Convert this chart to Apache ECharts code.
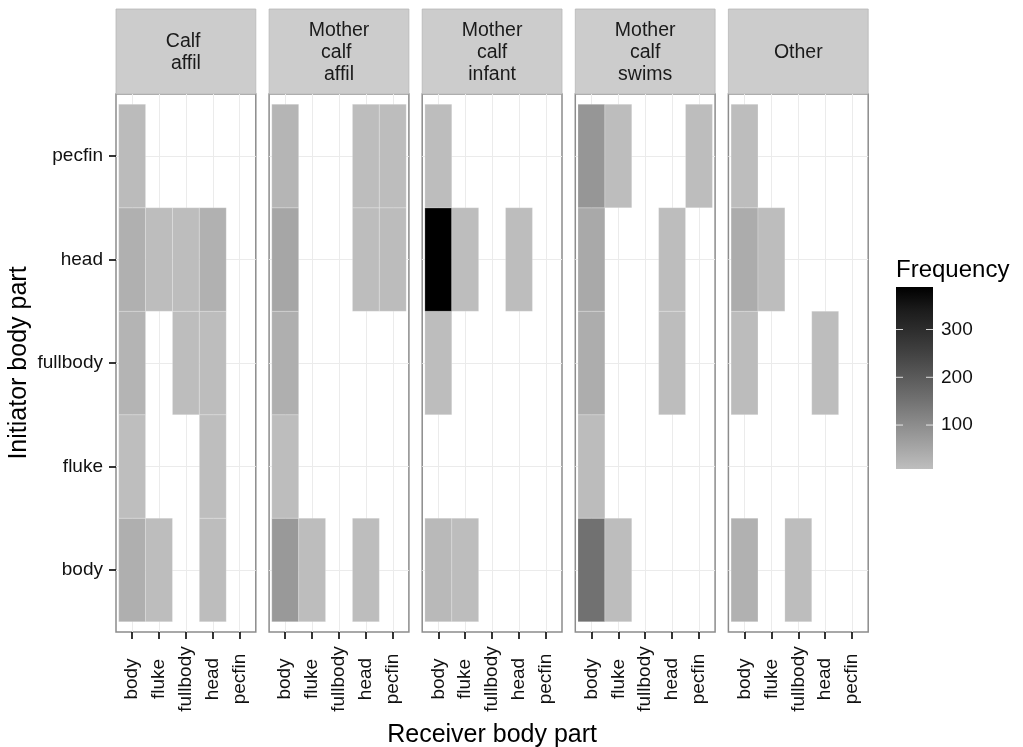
<!DOCTYPE html>
<html><head><meta charset="utf-8">
<script src="https://cdn.jsdelivr.net/npm/echarts@6/dist/echarts.min.js"></script>
<style>html,body{margin:0;padding:0;background:#fff}#c{width:1023px;height:747px}</style>
</head><body><div id="c"></div>
<script>
// Categories
const receiverParts = ['body', 'fluke', 'fullbody', 'head', 'pecfin'];
const initiatorParts = ['body', 'fluke', 'fullbody', 'head', 'pecfin'];
const panelNames = ['Calf \naffil', 'Mother\ncalf \naffil', 'Mother\ncalf\ninfant', 'Mother\ncalf\nswims', 'Other'];
// Frequencies: rows = initiator (body..pecfin), columns = receiver (body..pecfin), null = none
const calfAffil = [
  [36, 10, null, 10, null],
  [8, null, null, 8, null],
  [26, null, 10, 10, null],
  [34, 10, 10, 32, null],
  [14, null, null, null, null]
];
const motherCalfAffil = [
  [77, 10, null, 10, null],
  [10, null, null, null, null],
  [35, null, null, null, null],
  [52, null, null, 10, 11],
  [24, null, null, 10, 9]
];
const motherCalfInfant = [
  [18, 10, null, null, null],
  [null, null, null, null, null],
  [10, null, null, null, null],
  [389, 10, null, 10, null],
  [10, null, null, null, null]
];
const motherCalfSwims = [
  [153, 10, null, null, null],
  [12, null, null, null, null],
  [39, null, null, 10, null],
  [46, null, null, 10, null],
  [82, 10, null, null, 10]
];
const other = [
  [32, null, 10, null, null],
  [null, null, null, null, null],
  [11, null, null, 10, null],
  [41, 10, null, null, null],
  [10, null, null, null, null]
];
const legendTicks = [100, 200, 300];

const panels = [calfAffil, motherCalfAffil, motherCalfInfant, motherCalfSwims, other];
const FONT = '"Liberation Sans", Arial, sans-serif';
const catPos = receiverParts.map((_, i) => i + 1);

// gradient grey -> black interpolated in CIELAB lightness
function labGrey(t) {
  const L0 = 76.95;
  const L = L0 * (1 - t);
  const fy = (L + 16) / 116;
  const Y = fy > 6 / 29 ? fy * fy * fy : (fy - 4 / 29) * 3 * (6 / 29) * (6 / 29);
  const s = Y > 0.0031308 ? 1.055 * Math.pow(Y, 1 / 2.4) - 0.055 : 12.92 * Y;
  const v = Math.max(0, Math.min(255, Math.round(s * 255)));
  return 'rgb(' + v + ',' + v + ',' + v + ')';
}
const rampStops = [0, 0.125, 0.25, 0.375, 0.5, 0.625, 0.75, 0.875, 1];
const rampColors = rampStops.map(labGrey);

const seriesData = panels.map(m => {
  const out = [];
  m.forEach((row, yi) => row.forEach((v, xi) => {
    if (v !== null) out.push([xi + 1, yi + 1, v]);
  }));
  return out;
});
const allVals = seriesData.flat().map(d => d[2]);
const vMin = Math.min(...allVals);
const vMax = Math.max(...allVals);

const left0 = 116, step = 153.1, pw = 139.8, ptop = 94, ph = 538;
const grids = [], xAxes = [], yAxes = [], series = [], graphics = [];

function renderCell(params, api) {
  const x = api.value(0), y = api.value(1);
  const p0 = api.coord([x - 0.5, y + 0.5]);
  const p1 = api.coord([x + 0.5, y - 0.5]);
  return {
    type: 'rect',
    shape: { x: p0[0], y: p0[1], width: p1[0] - p0[0], height: p1[1] - p0[1] },
    style: { fill: api.visual('color'), stroke: 'rgba(255,255,255,0.35)', lineWidth: 0.6 }
  };
}

const tickStyle = { color: '#111', width: 1.7 };

panels.forEach((m, i) => {
  const L = left0 + i * step;
  graphics.push({
    type: 'rect', shape: { x: L, y: 9, width: pw, height: ptop - 9 },
    style: { fill: '#cccccc', stroke: '#b8b8b8', lineWidth: 0.8 }
  });
  graphics.push({
    type: 'text',
    style: { text: panelNames[i], x: L + pw / 2, y: 52.5, textAlign: 'center', textVerticalAlign: 'middle',
      font: '19.5px ' + FONT, lineHeight: 22, fill: '#1a1a1a' }
  });
  grids.push({ left: L, top: ptop, width: pw, height: ph, show: true, backgroundColor: '#fff',
    borderColor: '#8c8c8c', borderWidth: 1.5, outerBoundsMode: 'none', containLabel: false });
  xAxes.push({
    type: 'value', gridIndex: i, min: 0.4, max: 5.6,
    axisLine: { show: false },
    axisTick: { show: true, customValues: catPos, length: 7, lineStyle: tickStyle },
    axisLabel: { customValues: catPos, rotate: 90, align: 'center', verticalAlign: 'middle', margin: 47,
      fontSize: 19, color: '#111', fontFamily: FONT,
      formatter: v => receiverParts[Math.round(v) - 1] || '' },
    splitLine: { show: true, lineStyle: { color: '#ebebeb', width: 1 } },
    name: i === 2 ? 'Receiver body part' : '', nameLocation: 'middle', nameGap: 91,
    nameTextStyle: { fontSize: 25, color: '#000', fontFamily: FONT }
  });
  yAxes.push({
    type: 'value', gridIndex: i, min: 0.4, max: 5.6,
    axisLine: { show: false },
    axisTick: { show: i === 0, customValues: catPos, length: 7, lineStyle: tickStyle },
    axisLabel: { show: i === 0, customValues: catPos, margin: 13, fontSize: 19, color: '#111', fontFamily: FONT,
      formatter: v => initiatorParts[Math.round(v) - 1] || '' },
    splitLine: { show: true, lineStyle: { color: '#ebebeb', width: 1 } },
    name: i === 0 ? 'Initiator body part' : '', nameLocation: 'middle', nameGap: 84,
    nameTextStyle: { fontSize: 25, color: '#000', fontFamily: FONT }
  });
  series.push({
    type: 'custom', xAxisIndex: i, yAxisIndex: i, data: seriesData[i],
    encode: { x: 0, y: 1 }, renderItem: renderCell
  });
});

// colour bar
grids.push({ left: 896, top: 287, width: 37, height: 182, outerBoundsMode: 'none', containLabel: false });
xAxes.push({ type: 'value', gridIndex: 5, min: 0, max: 1, show: false });
yAxes.push({
  type: 'value', gridIndex: 5, min: vMin, max: vMax, position: 'right',
  axisLine: { show: false },
  axisTick: { show: false },
  axisLabel: { customValues: legendTicks, margin: 8, fontSize: 19, color: '#111', fontFamily: FONT },
  splitLine: { show: false }
});
series.push({
  type: 'custom', xAxisIndex: 5, yAxisIndex: 5, data: [[0, 1, vMin, vMax]],
  renderItem: function (params, api) {
    const p0 = api.coord([0, vMax]);
    const p1 = api.coord([1, vMin]);
    const stops = rampStops.map((s, k) => ({ offset: 1 - s, color: rampColors[k] }));
    stops.sort((a, b) => a.offset - b.offset);
    const children = [{
      type: 'rect',
      shape: { x: p0[0], y: p0[1], width: p1[0] - p0[0], height: p1[1] - p0[1] },
      style: { fill: { type: 'linear', x: 0, y: 0, x2: 0, y2: 1, colorStops: stops } }
    }];
    legendTicks.forEach(t => {
      const py = api.coord([0, t])[1];
      children.push({ type: 'line', shape: { x1: p0[0], y1: py, x2: p0[0] + 7, y2: py },
        style: { stroke: 'rgba(255,255,255,0.8)', lineWidth: 1 } });
      children.push({ type: 'line', shape: { x1: p1[0] - 7, y1: py, x2: p1[0], y2: py },
        style: { stroke: 'rgba(255,255,255,0.8)', lineWidth: 1 } });
    });
    return { type: 'group', children: children };
  }
});
graphics.push({
  type: 'text',
  style: { text: 'Frequency', x: 896, y: 270, textAlign: 'left', textVerticalAlign: 'middle',
    font: '24px ' + FONT, fill: '#000' }
});

const chart = echarts.init(document.getElementById('c'), null, { renderer: 'canvas' });
chart.setOption({
  backgroundColor: '#fff',
  animation: false,
  textStyle: { fontFamily: FONT },
  grid: grids,
  xAxis: xAxes,
  yAxis: yAxes,
  visualMap: {
    type: 'continuous', show: false, min: vMin, max: vMax, dimension: 2,
    seriesIndex: [0, 1, 2, 3, 4],
    inRange: { color: rampColors }
  },
  series: series,
  graphic: graphics
});
</script></body></html>
